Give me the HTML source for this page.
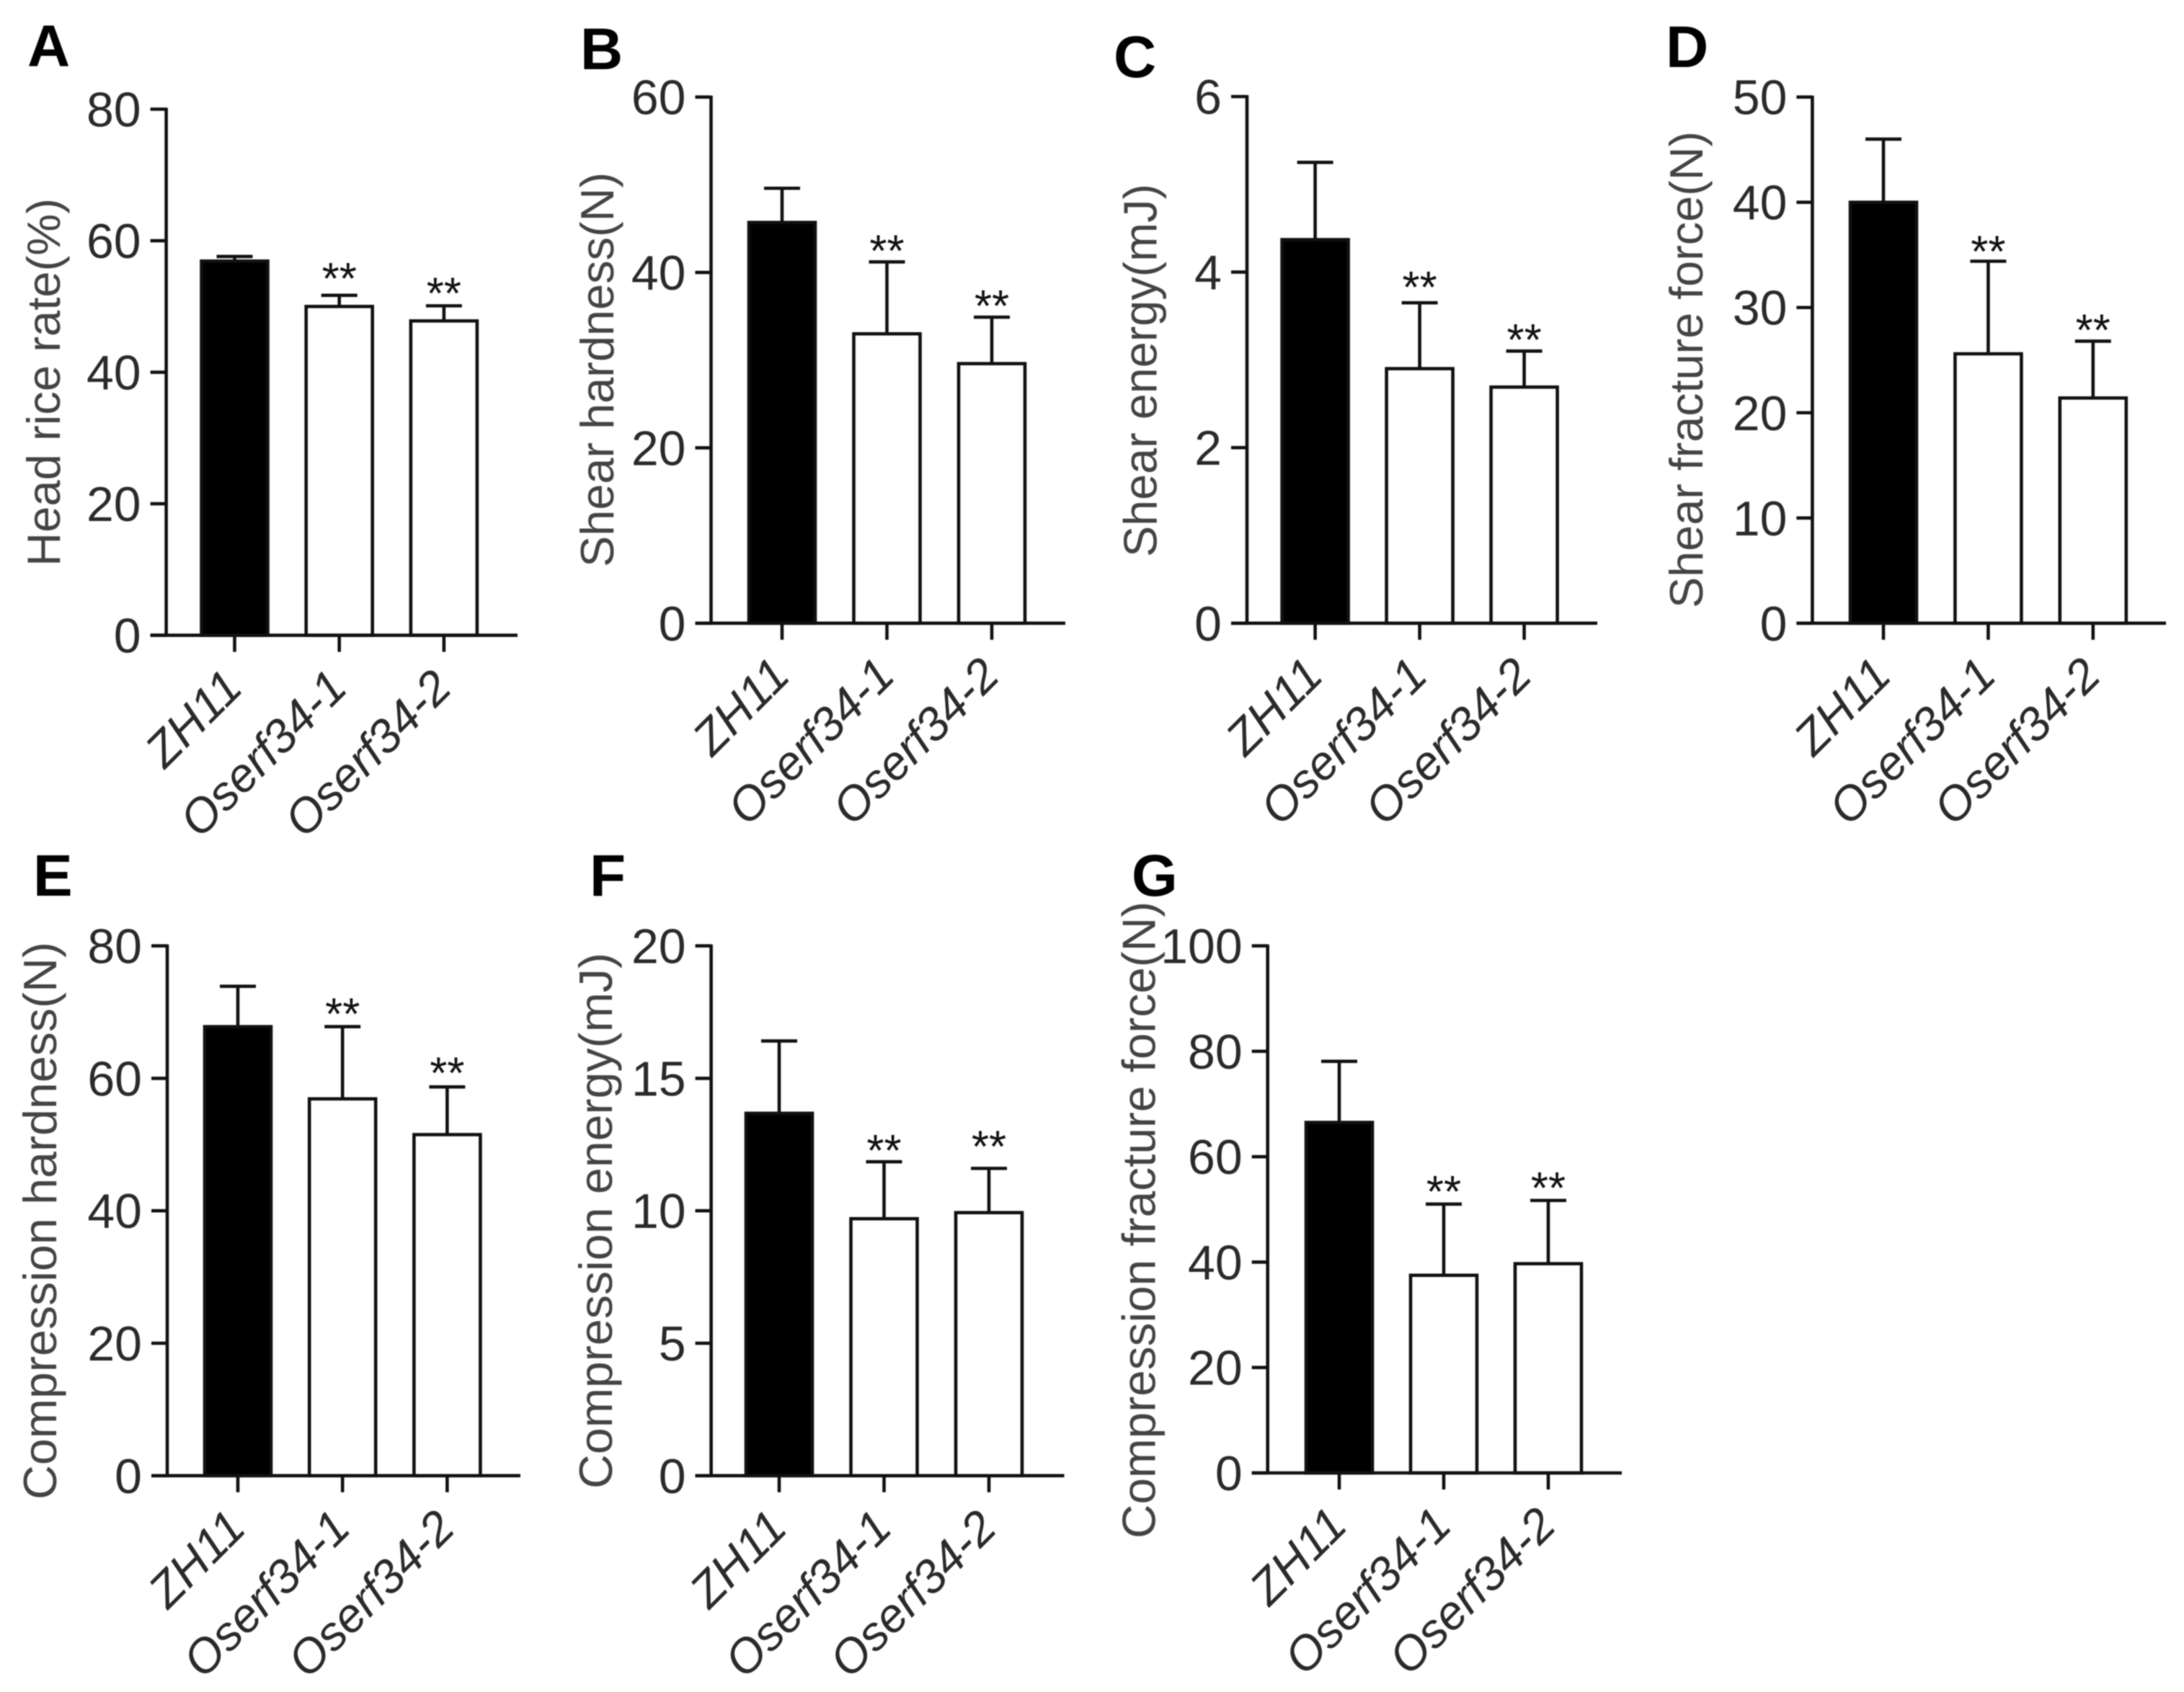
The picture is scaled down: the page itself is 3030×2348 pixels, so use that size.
<!DOCTYPE html>
<html lang="en">
<head>
<meta charset="utf-8">
<title>Rice quality bar charts</title>
<style>
html,body{margin:0;padding:0;background:#fff;width:3030px;height:2348px;overflow:hidden}
svg{display:block;filter:blur(0.9px)}
text{font-family:"Liberation Sans",Arial,sans-serif}
</style>
</head>
<body>
<svg id="figure" xmlns="http://www.w3.org/2000/svg" width="3030" height="2348" viewBox="0 0 3030 2348"></svg>
<script>
const categories = ['ZH11', 'Oserf34-1', 'Oserf34-2'];

const headRiceTicks = [0, 20, 40, 60, 80];
const headRiceMeans = [56.9, 50.0, 47.8];
const headRiceErrorTops = [57.6, 51.7, 50.1];

const shearHardnessTicks = [0, 20, 40, 60];
const shearHardnessMeans = [45.7, 33.0, 29.6];
const shearHardnessErrorTops = [49.6, 41.2, 34.9];

const shearEnergyTicks = [0, 2, 4, 6];
const shearEnergyMeans = [4.37, 2.90, 2.69];
const shearEnergyErrorTops = [5.25, 3.65, 3.10];

const shearFractureTicks = [0, 10, 20, 30, 40, 50];
const shearFractureMeans = [40.0, 25.6, 21.4];
const shearFractureErrorTops = [46.0, 34.4, 26.8];

const compHardnessTicks = [0, 20, 40, 60, 80];
const compHardnessMeans = [67.8, 56.9, 51.5];
const compHardnessErrorTops = [73.9, 67.8, 58.7];

const compEnergyTicks = [0, 5, 10, 15, 20];
const compEnergyMeans = [13.68, 9.7, 9.93];
const compEnergyErrorTops = [16.41, 11.85, 11.6];

const compFractureTicks = [0, 20, 40, 60, 80, 100];
const compFractureMeans = [66.5, 37.5, 39.7];
const compFractureErrorTops = [78.1, 51.0, 51.7];

const panels = [
  {letter:'A', lx:38,   ly:92,   title:'Head rice rate(%)',            tx:83,   tb:786,  tl:511, ticks:headRiceTicks,      means:headRiceMeans,      errs:headRiceErrorTops,      ax:230.6, top:151.5, bot:881.6,  end:718,  c0:325.5, step:145.2, lift:[0,12,6]},
  {letter:'B', lx:805,  ly:96,   title:'Shear hardness(N)',            tx:851,  tb:787,  tl:548, ticks:shearHardnessTicks, means:shearHardnessMeans, errs:shearHardnessErrorTops, ax:986.5, top:134.7, bot:864.8,  end:1478, c0:1085,  step:145.5, lift:[0,4,4]},
  {letter:'C', lx:1545, ly:107,  title:'Shear energy(mJ)',             tx:1604.6,tb:773, tl:518, ticks:shearEnergyTicks,   means:shearEnergyMeans,   errs:shearEnergyErrorTops,   ax:1730,  top:134,   bot:864.8,  end:2216, c0:1824.6,step:145,   lift:[0,10,4]},
  {letter:'D', lx:2311, ly:93,   title:'Shear fracture force(N)',      tx:2362, tb:844,  tl:662, ticks:shearFractureTicks, means:shearFractureMeans, errs:shearFractureErrorTops, ax:2514.4,top:134.7, bot:864.8,  end:3005, c0:2613,  step:145.4, lift:[0,2,4]},
  {letter:'E', lx:46,   ly:1243, title:'Compression hardness(N)',      tx:78,   tb:2081, tl:774, ticks:compHardnessTicks,  means:compHardnessMeans,  errs:compHardnessErrorTops,  ax:232,   top:1312.6,bot:2047.8, end:722,  c0:330,   step:145.2, lift:[0,6,8]},
  {letter:'F', lx:818,  ly:1243, title:'Compression energy(mJ)',       tx:849,  tb:2066, tl:744, ticks:compEnergyTicks,    means:compEnergyMeans,    errs:compEnergyErrorTops,    ax:986.6, top:1312.6,bot:2047.8, end:1476.5,c0:1081,step:145.5, lift:[0,4,19]},
  {letter:'G', lx:1570, ly:1243, title:'Compression fracture force(N)',tx:1602.7,tb:2135,tl:884, ticks:compFractureTicks,  means:compFractureMeans,  errs:compFractureErrorTops,  ax:1758.7,top:1312.6,bot:2044,   end:2250, c0:1858,  step:145,   lift:[0,6,6]}
];

const NS = 'http://www.w3.org/2000/svg';
const INK = '#111';
const LINE = 4.6;
const figure = document.getElementById('figure');

function make(tag, parent, attrs, content) {
  const el = document.createElementNS(NS, tag);
  for (const k in attrs) el.setAttribute(k, attrs[k]);
  if (content !== undefined) el.textContent = content;
  parent.appendChild(el);
  return el;
}

panels.forEach(function (p) {
  const key = p.letter.toLowerCase();
  const maxTick = p.ticks[p.ticks.length - 1];
  const yScale = function (v) { return p.bot - (v / maxTick) * (p.bot - p.top); };
  const xScale = function (i) { return p.c0 + i * p.step; };
  const barW = 92;
  const capW = 50;

  const g = make('g', figure, {});
  
  

  const letter = make('text', g, {x:p.lx, y:p.ly, 'font-size':82, 'font-weight':'bold', fill:'#000'}, p.letter);
  
  

  const yTitle = make('text', g, {
    transform:'translate(' + p.tx + ',' + p.tb + ') rotate(-90)',
    'font-size':65, fill:'#444', textLength:p.tl, lengthAdjust:'spacingAndGlyphs'
  }, p.title);
  
  

  categories.forEach(function (cat, i) {
    const cx = xScale(i);
    const yMean = yScale(p.means[i]);
    const yErr = yScale(p.errs[i]);

    const bar = make('rect', g, {
      x:cx - barW / 2, y:yMean, width:barW, height:p.bot - yMean,
      fill:i === 0 ? '#000' : '#fff', stroke:INK, 'stroke-width':LINE
    });
    
    

    const errLine = make('line', g, {x1:cx, x2:cx, y1:yMean, y2:yErr, stroke:INK, 'stroke-width':LINE});
    
    

    const errCap = make('line', g, {x1:cx - capW / 2, x2:cx + capW / 2, y1:yErr, y2:yErr, stroke:INK, 'stroke-width':LINE});
    
    

    if (i > 0) {
      const stars = make('text', g, {x:cx, y:yErr + 10 - p.lift[i], 'font-size':62, 'text-anchor':'middle', fill:'#111'}, '**');
      
      
    }

    const tick = make('line', g, {x1:cx, x2:cx, y1:p.bot, y2:p.bot + 23, stroke:INK, 'stroke-width':LINE});
    
    

    const label = make('text', g, {
      transform:'translate(' + (cx + 14) + ',' + (p.bot + 76) + ') rotate(-45)',
      'font-size':66, 'font-style':'italic', 'text-anchor':'end', fill:'#2a2a2a'
    }, cat);
    
    
  });

  const yAxis = make('line', g, {x1:p.ax, x2:p.ax, y1:p.top - 2, y2:p.bot + 2, stroke:INK, 'stroke-width':LINE});
  
  

  const xAxis = make('line', g, {x1:p.ax - 22, x2:p.end, y1:p.bot, y2:p.bot, stroke:INK, 'stroke-width':LINE});
  
  

  p.ticks.forEach(function (t) {
    const y = yScale(t);
    const yTick = make('line', g, {x1:p.ax - 22, x2:p.ax, y1:y, y2:y, stroke:INK, 'stroke-width':LINE});
    
    

    const yLabel = make('text', g, {x:p.ax - 35, y:y + 24, 'font-size':68, 'text-anchor':'end', fill:'#2a2a2a'}, String(t));
    
    
  });
});
</script>
</body>
</html>
